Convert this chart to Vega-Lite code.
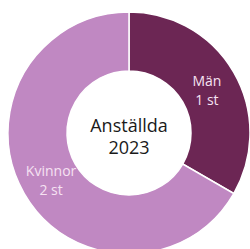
{
  "$schema": "https://vega.github.io/schema/vega-lite/v6.json",
  "width": 258,
  "height": 266,
  "autosize": "none",
  "padding": 0,
  "background": "white",
  "data": {"values": [
    {"kon": "Män", "antal": 1},
    {"kon": "Kvinnor", "antal": 2}
  ]},
  "transform": [{"calculate": "[datum.kon, datum.antal + ' st']", "as": "etikett"}],
  "encoding": {
    "theta": {"field": "antal", "type": "quantitative", "stack": true},
    "order": {"field": "antal", "type": "quantitative", "sort": "ascending"}
  },
  "layer": [
    {
      "mark": {"type": "arc", "innerRadius": 62, "outerRadius": 121, "stroke": "white", "strokeWidth": 1.5},
      "encoding": {
        "color": {"field": "kon", "type": "nominal", "legend": null,
          "scale": {"domain": ["Män", "Kvinnor"], "range": ["#6c2654", "#c088c2"]}}
      }
    },
    {
      "mark": {"type": "text", "radius": 90, "dy": -6, "font": "Open Sans", "fontSize": 14, "lineHeight": 19, "color": "#f6e2f2", "baseline": "middle", "align": "center"},
      "encoding": {"text": {"field": "etikett"}}
    },
    {
      "data": {"values": [{"rubrik": ["Anställda", "2023"]}]},
      "mark": {"type": "text", "dy": -6, "font": "Open Sans", "fontSize": 18, "lineHeight": 22, "color": "#1a1a1a", "baseline": "middle", "align": "center"},
      "encoding": {"text": {"field": "rubrik"}, "theta": null, "order": null}
    }
  ]
}
